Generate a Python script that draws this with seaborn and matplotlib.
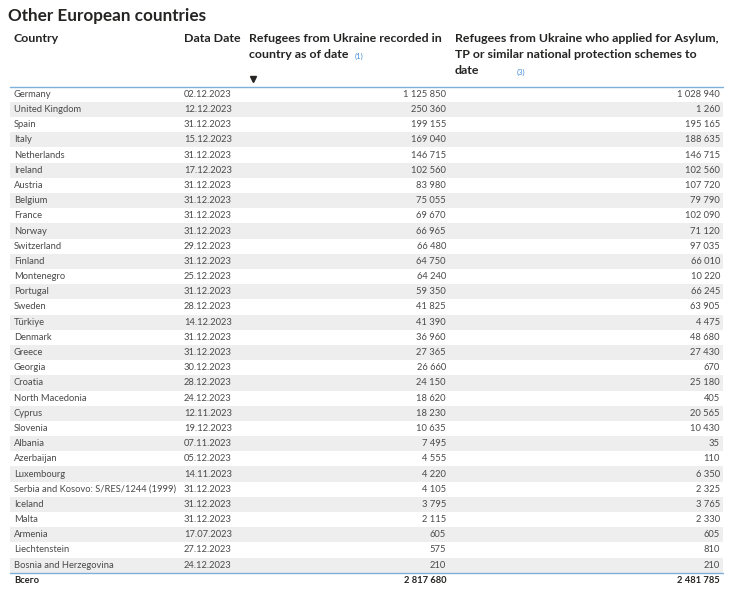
import numpy as np
import pandas as pd
import matplotlib
matplotlib.use("Agg")
import matplotlib.pyplot as plt
import seaborn as sns

sns.set_theme(style="white")
plt.rcParams['font.family'] = ['Lato', 'DejaVu Sans']

# table data
countries = ["Germany", "United Kingdom", "Spain", "Italy", "Netherlands", "Ireland",
             "Austria", "Belgium", "France", "Norway", "Switzerland", "Finland",
             "Montenegro", "Portugal", "Sweden", "Türkiye", "Denmark", "Greece",
             "Georgia", "Croatia", "North Macedonia", "Cyprus", "Slovenia", "Albania",
             "Azerbaijan", "Luxembourg", "Serbia and Kosovo: S/RES/1244 (1999)",
             "Iceland", "Malta", "Armenia", "Liechtenstein", "Bosnia and Herzegovina"]
dates = ["02.12.2023", "12.12.2023", "31.12.2023", "15.12.2023", "31.12.2023",
         "17.12.2023", "31.12.2023", "31.12.2023", "31.12.2023", "31.12.2023",
         "29.12.2023", "31.12.2023", "25.12.2023", "31.12.2023", "28.12.2023",
         "14.12.2023", "31.12.2023", "31.12.2023", "30.12.2023", "28.12.2023",
         "24.12.2023", "12.11.2023", "19.12.2023", "07.11.2023", "05.12.2023",
         "14.11.2023", "31.12.2023", "31.12.2023", "31.12.2023", "17.07.2023",
         "27.12.2023", "24.12.2023"]
recorded = [1125850, 250360, 199155, 169040, 146715, 102560, 83980, 75055, 69670,
            66965, 66480, 64750, 64240, 59350, 41825, 41390, 36960, 27365, 26660,
            24150, 18620, 18230, 10635, 7495, 4555, 4220, 4105, 3795, 2115, 605, 575, 210]
applied = [1028940, 1260, 195165, 188635, 146715, 102560, 107720, 79790, 102090,
           71120, 97035, 66010, 10220, 66245, 63905, 4475, 48680, 27430, 670,
           25180, 405, 20565, 10430, 35, 110, 6350, 2325, 3765, 2330, 605, 810, 210]
total_recorded = 2817680
total_applied = 2481785

df = pd.DataFrame({"Country": countries, "Date": dates,
                   "Recorded": recorded, "Applied": applied})


def fmt(v):
    return f"{v:,}".replace(",", " ")


fig = plt.figure(figsize=(7.36, 5.93), dpi=100)
ax = fig.add_axes([0, 0, 1, 1])
ax.set_xlim(0, 736)
ax.set_ylim(593, 0)
ax.axis("off")

x0, x1 = 10, 723
y_first = 94.3
row_h = 15.19
body_col = "#4a4a4a"
head_col = "#252423"
bs = 6.75

# title
ax.text(8, 16, "Other European countries", fontsize=12.3, fontweight="bold",
        color=head_col, va="center", ha="left")

# headers
hs = 8.9
ax.text(14, 39, "Country", fontsize=hs, fontweight="bold", color=head_col, va="center")
ax.text(184, 39, "Data Date", fontsize=hs, fontweight="bold", color=head_col, va="center")
ax.text(249, 39, "Refugees from Ukraine recorded in", fontsize=hs, fontweight="bold",
        color=head_col, va="center")
ax.text(249, 55, "country as of date", fontsize=hs, fontweight="bold",
        color=head_col, va="center")
ax.text(355, 56, "(1)", fontsize=5.5, color="#4a8fd8", va="center")
ax.text(455, 39, "Refugees from Ukraine who applied for Asylum,", fontsize=hs,
        fontweight="bold", color=head_col, va="center")
ax.text(455, 55, "TP or similar national protection schemes to", fontsize=hs,
        fontweight="bold", color=head_col, va="center")
ax.text(455, 71, "date", fontsize=hs, fontweight="bold", color=head_col, va="center")
ax.text(517, 72, "(3)", fontsize=5.5, color="#4a8fd8", va="center")
ax.plot([253], [79], marker="v", color=head_col, markersize=4)

# rows
for i, row in df.iterrows():
    yc = y_first + i * row_h
    if i % 2 == 1:
        ax.axhspan(yc - row_h / 2, yc + row_h / 2, xmin=x0 / 736, xmax=x1 / 736,
                   color="#eeeeee", lw=0, zorder=0)
    ax.text(14, yc, row["Country"], fontsize=bs, color=body_col, va="center")
    ax.text(184, yc, row["Date"], fontsize=bs, color=body_col, va="center")
    ax.text(446, yc, fmt(row["Recorded"]), fontsize=bs, color=body_col,
            va="center", ha="right")
    ax.text(720, yc, fmt(row["Applied"]), fontsize=bs, color=body_col,
            va="center", ha="right")

line_col = "#7fb0dc"
ax.plot([x0, x1], [86.8, 86.8], color=line_col, lw=1)
y_bot = y_first + (len(df) - 0.5) * row_h
ax.plot([x0, x1], [y_bot, y_bot], color=line_col, lw=1)

yt = y_bot + 8
ax.text(14, yt, "Всего", fontsize=bs, fontweight="bold", color=head_col, va="center")
ax.text(446, yt, fmt(total_recorded), fontsize=bs, fontweight="bold", color=head_col,
        va="center", ha="right")
ax.text(720, yt, fmt(total_applied), fontsize=bs, fontweight="bold", color=head_col,
        va="center", ha="right")

fig.savefig("out.png", dpi=100)
